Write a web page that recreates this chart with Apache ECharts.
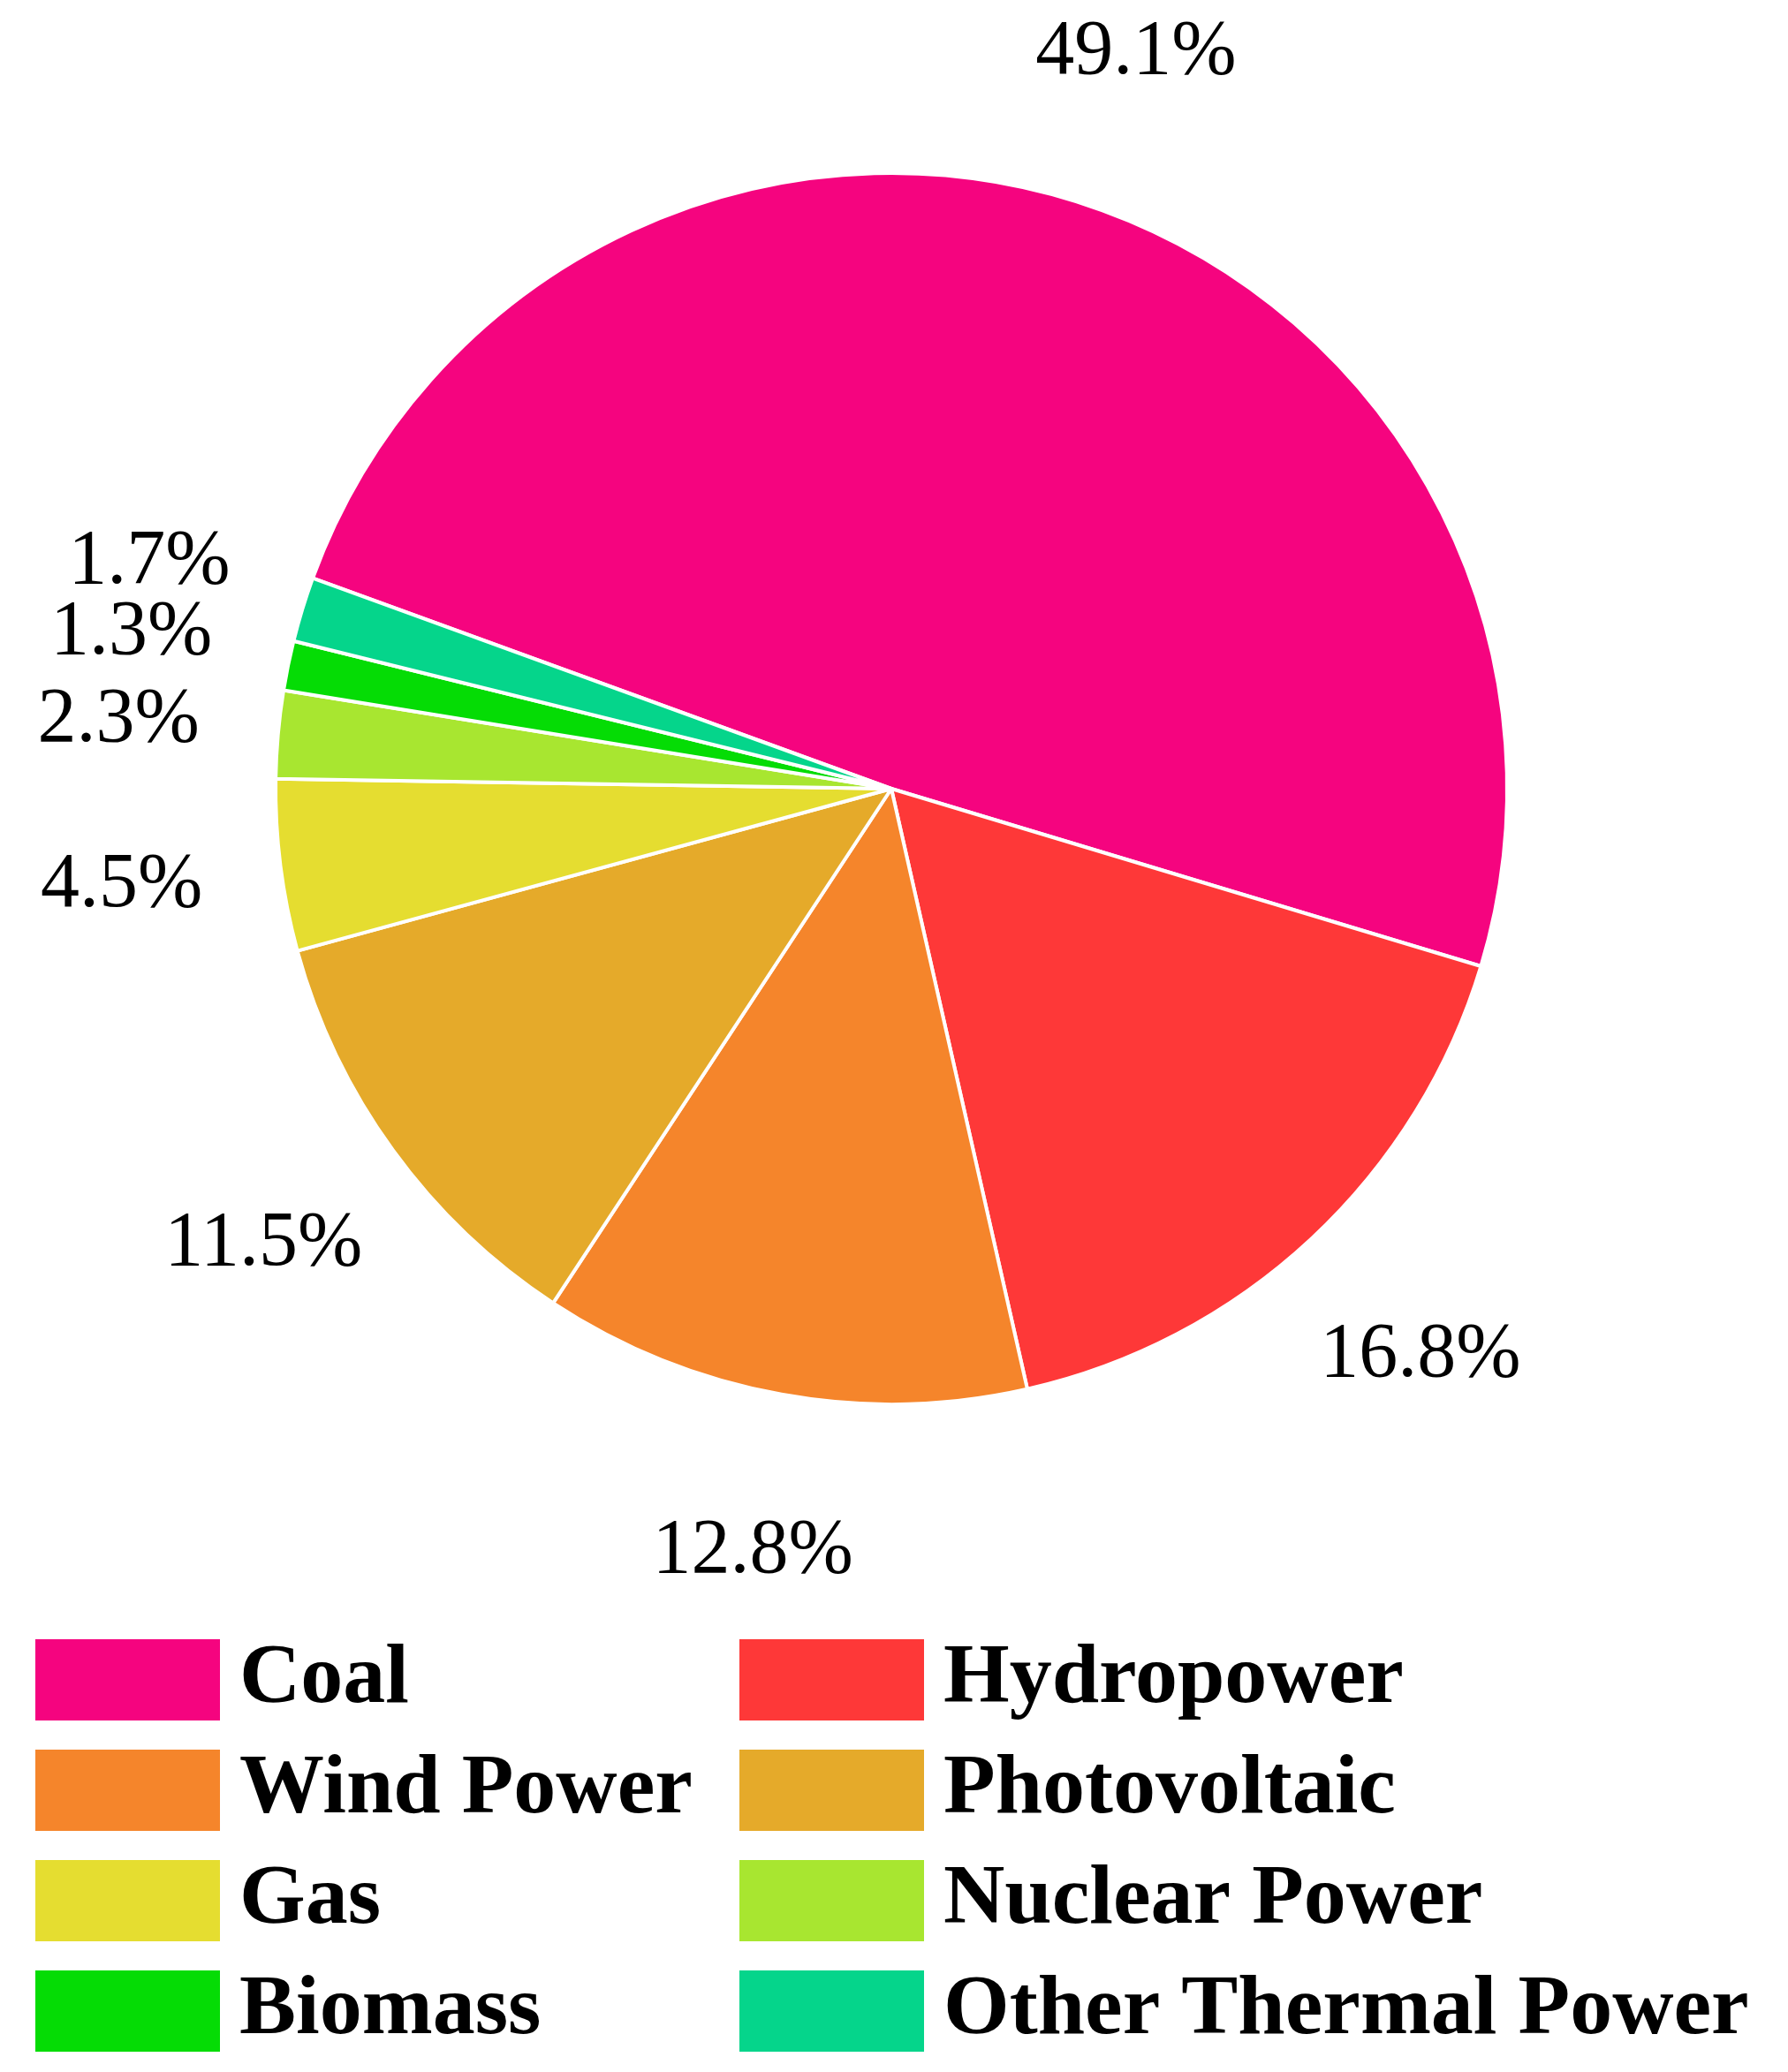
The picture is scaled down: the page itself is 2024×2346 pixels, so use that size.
<!DOCTYPE html>
<html><head><meta charset="utf-8">
<script src="https://cdn.jsdelivr.net/npm/echarts@6/dist/echarts.min.js"></script>
<style>html,body{margin:0;padding:0;background:#fff}#c{width:2024px;height:2346px}</style>
</head><body><div id="c"></div>
<script>
const categories = ['Coal','Hydropower','Wind Power','Photovoltaic','Gas','Nuclear Power','Biomass','Other Thermal Power'];
const shares = [49.1,16.8,12.8,11.5,4.5,2.3,1.3,1.7];
const colors = ['#F5047F','#FE3838','#F5852B','#E5AA2A','#E5DD30','#A8E630','#05DC05','#05D58B'];

const CX = 1009, CY = 893, R = 697, START = 160, LR = R * 1.26;
const total = shares.reduce((a,b)=>a+b,0);
const mids = []; let acc = 0;
shares.forEach(v => { const a = START - (acc + v/2)/total*360; mids.push(a); acc += v; });

const chart = echarts.init(document.getElementById('c'));
const font = '"Liberation Serif","Times New Roman",serif';
const legendBase = {orient:'vertical', itemWidth:211, itemHeight:94, itemGap:29, icon:'rect',
  textStyle:{fontFamily:font, fontWeight:'bold', fontSize:96, color:'#000', padding:[0,0,0,16]}, selectedMode:false};
chart.setOption({
  animation:false,
  color: colors,
  legend:[
    Object.assign({left:33, top:1849, data:[categories[0],categories[2],categories[4],categories[6]]}, legendBase),
    Object.assign({left:830, top:1849, data:[categories[1],categories[3],categories[5],categories[7]]}, legendBase)
  ],
  series:[{
    type:'pie', center:[CX,CY], radius:[0,R], startAngle:START, clockwise:true,
    itemStyle:{borderColor:'#fff', borderWidth:4},
    label:{show:true, position:'outside', formatter:p=>p.value.toFixed(1)+'%', fontFamily:font, fontSize:88, color:'#000'},
    labelLine:{show:false},
    labelLayout:function(p){
      const a = mids[p.dataIndex]*Math.PI/180;
      return {x: CX + Math.cos(a)*LR, y: CY - Math.sin(a)*LR, align:'center', verticalAlign:'middle'};
    },
    emphasis:{disabled:true},
    data: categories.map((n,i)=>({name:n, value:shares[i]}))
  }]
});
</script></body></html>
